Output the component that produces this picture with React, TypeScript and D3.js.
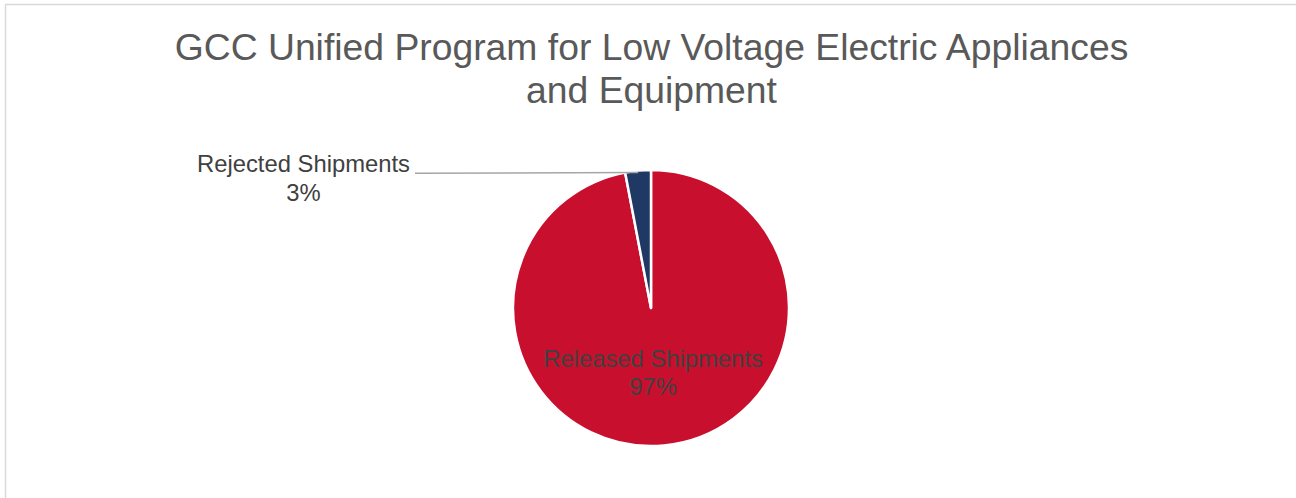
import React from "react";
import * as d3 from "d3";

const categories = ["Released Shipments", "Rejected Shipments"];
const values = [97, 3];
const colors = ["#C8102E", "#203864"];
const titleLines = ["GCC Unified Program for Low Voltage Electric Appliances", "and Equipment"];

const W = 1296;
const H = 498;

export default function App() {
  const cx = 651;
  const cy = 308;
  const r = 138;
  const pie = d3.pie<number>().sort(null).value((d) => d)(values);
  const arc = d3.arc<d3.PieArcDatum<number>>().innerRadius(0).outerRadius(r);
  const total = d3.sum(values);
  const font = "'Liberation Sans', Arial, sans-serif";

  const rej = pie[1];
  const midRej = (rej.startAngle + rej.endAngle) / 2;
  const lx = cx + Math.sin(midRej) * (r - 2);
  const ly = cy - Math.cos(midRej) * (r - 2);

  return (
    <svg
      width={W}
      height={H}
      style={{ position: "absolute", left: 0, top: 0 }}
      viewBox={`0 0 ${W} ${H}`}
    >
      <rect x={0} y={0} width={W} height={H} fill="#fff" />
      <rect x={5.5} y={4.5} width={W + 20} height={H + 20} fill="#fff" stroke="#d9d9d9" strokeWidth={1.5} />
      {titleLines.map((t, i) => (
        <text
          key={i}
          x={651.5}
          y={60 + i * 43}
          textAnchor="middle"
          fontFamily={font}
          fontSize={37.3}
          fill="#595959"
        >
          {t}
        </text>
      ))}
      <g transform={`translate(${cx},${cy})`}>
        {pie.map((p, i) => (
          <path key={i} d={arc(p) || ""} fill={colors[i]} stroke="#fff" strokeWidth={2.5} strokeLinejoin="round" />
        ))}
      </g>
      <line x1={415} y1={173.3} x2={lx} y2={ly} stroke="#a6a6a6" strokeWidth={1.5} />
      <text x={303.5} y={172} textAnchor="middle" fontFamily={font} fontSize={23.8} fill="#404040">
        {categories[1]}
      </text>
      <text x={303.5} y={201} textAnchor="middle" fontFamily={font} fontSize={23.8} fill="#404040">
        {`${Math.round((values[1] / total) * 100)}%`}
      </text>
      <text x={653} y={367} textAnchor="middle" fontFamily={font} fontSize={23.8} fill="#404040">
        {categories[0]}
      </text>
      <text x={653} y={395} textAnchor="middle" fontFamily={font} fontSize={23.8} fill="#404040">
        {`${Math.round((values[0] / total) * 100)}%`}
      </text>
    </svg>
  );
}
